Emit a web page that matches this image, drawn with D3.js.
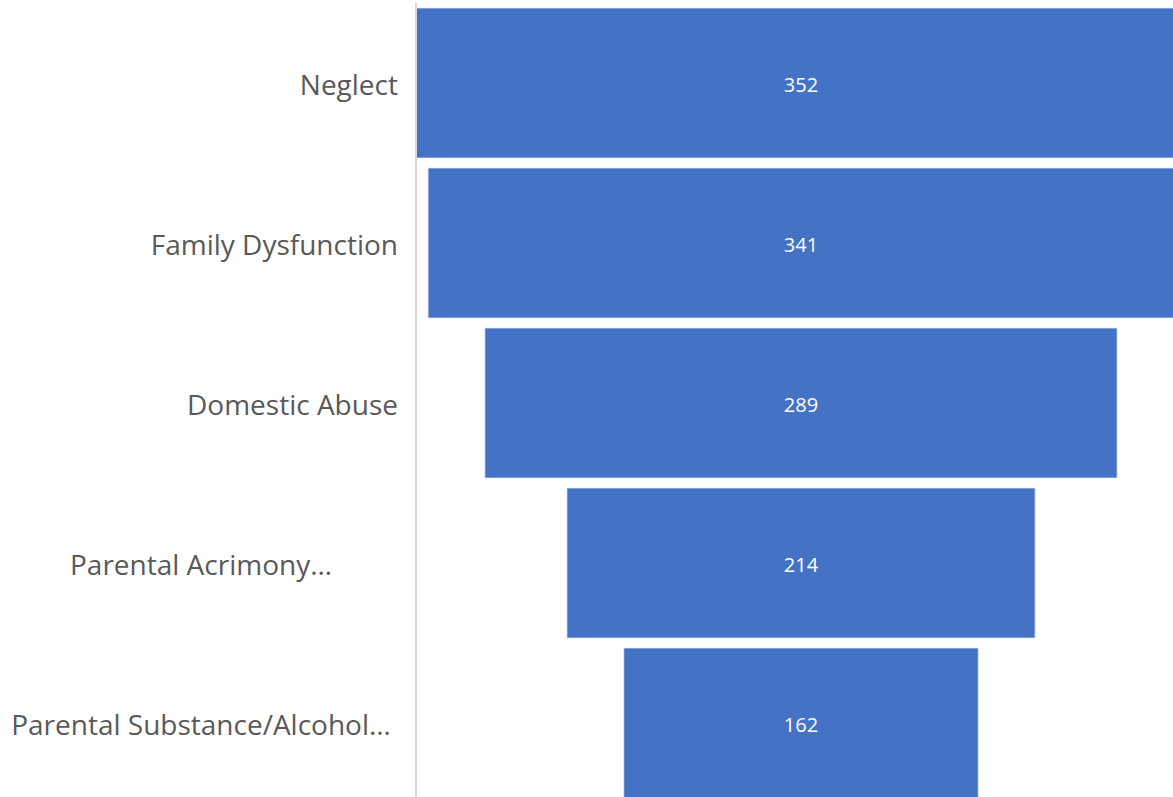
<!DOCTYPE html>
<html>
<head>
<meta charset="utf-8">
<script src="https://cdn.jsdelivr.net/npm/d3@7"></script>
<style>
  body { margin: 0; background: #fff; }
  svg { display: block; font-family: "Open Sans", sans-serif; }
</style>
</head>
<body>
<div id="chart"></div>
<script>
// Chart data
var categories = ["Neglect", "Family Dysfunction", "Domestic Abuse", "Parental Acrimony…", "Parental Substance/Alcohol…"];
var values = [352, 341, 289, 214, 162];
// labels cut off by the chart get centred in the label area
var truncated = [false, false, false, true, true];

var svgWidth = 1173;
var svgHeight = 797;
var axisX = 416;

var svg = d3.select("#chart")
  .append("svg")
  .attr("width", svgWidth)
  .attr("height", svgHeight);

// Band scale for the funnel steps
var yScale = d3.scaleBand()
  .domain(categories)
  .range([3, 803])
  .paddingInner(0.0625)
  .paddingOuter(0.03125);

// Symmetric scale, bars centred on zero
var maxVal = d3.max(values);
var xScale = d3.scaleLinear()
  .domain([-maxVal / 2, maxVal / 2])
  .range([axisX, axisX + 770]);

var data = categories.map(function (c, i) {
  return { name: c, value: values[i], cut: truncated[i] };
});

// Bars
svg.append("g").selectAll("rect")
  .data(data)
  .enter()
  .append("rect")
  .attr("x", d => xScale(-d.value / 2))
  .attr("y", d => yScale(d.name))
  .attr("width", d => xScale(d.value / 2) - xScale(-d.value / 2))
  .attr("height", yScale.bandwidth())
  .attr("fill", "#4472C4")
  .attr("stroke", "#dfe6f3")
  .attr("stroke-width", 0.8);

// Vertical axis line
svg.append("line")
  .attr("x1", axisX)
  .attr("x2", axisX)
  .attr("y1", 3)
  .attr("y2", svgHeight)
  .attr("stroke", "#d9d9d9")
  .attr("stroke-width", 2);

// Category labels
svg.append("g").selectAll("text")
  .data(data)
  .enter()
  .append("text")
  .attr("x", d => d.cut ? 201 : 398)
  .attr("y", d => yScale(d.name) + yScale.bandwidth() / 2)
  .attr("dy", "0.42em")
  .attr("text-anchor", d => d.cut ? "middle" : "end")
  .attr("fill", "#595959")
  .style("font-size", "28px")
  .text(d => d.name);

// Value labels
svg.append("g").selectAll("text")
  .data(data)
  .enter()
  .append("text")
  .attr("x", xScale(0))
  .attr("y", d => yScale(d.name) + yScale.bandwidth() / 2)
  .attr("dy", "0.45em")
  .attr("text-anchor", "middle")
  .attr("fill", "#ffffff")
  .style("font-size", "20px")
  .text(d => d.value);
</script>
</body>
</html>
